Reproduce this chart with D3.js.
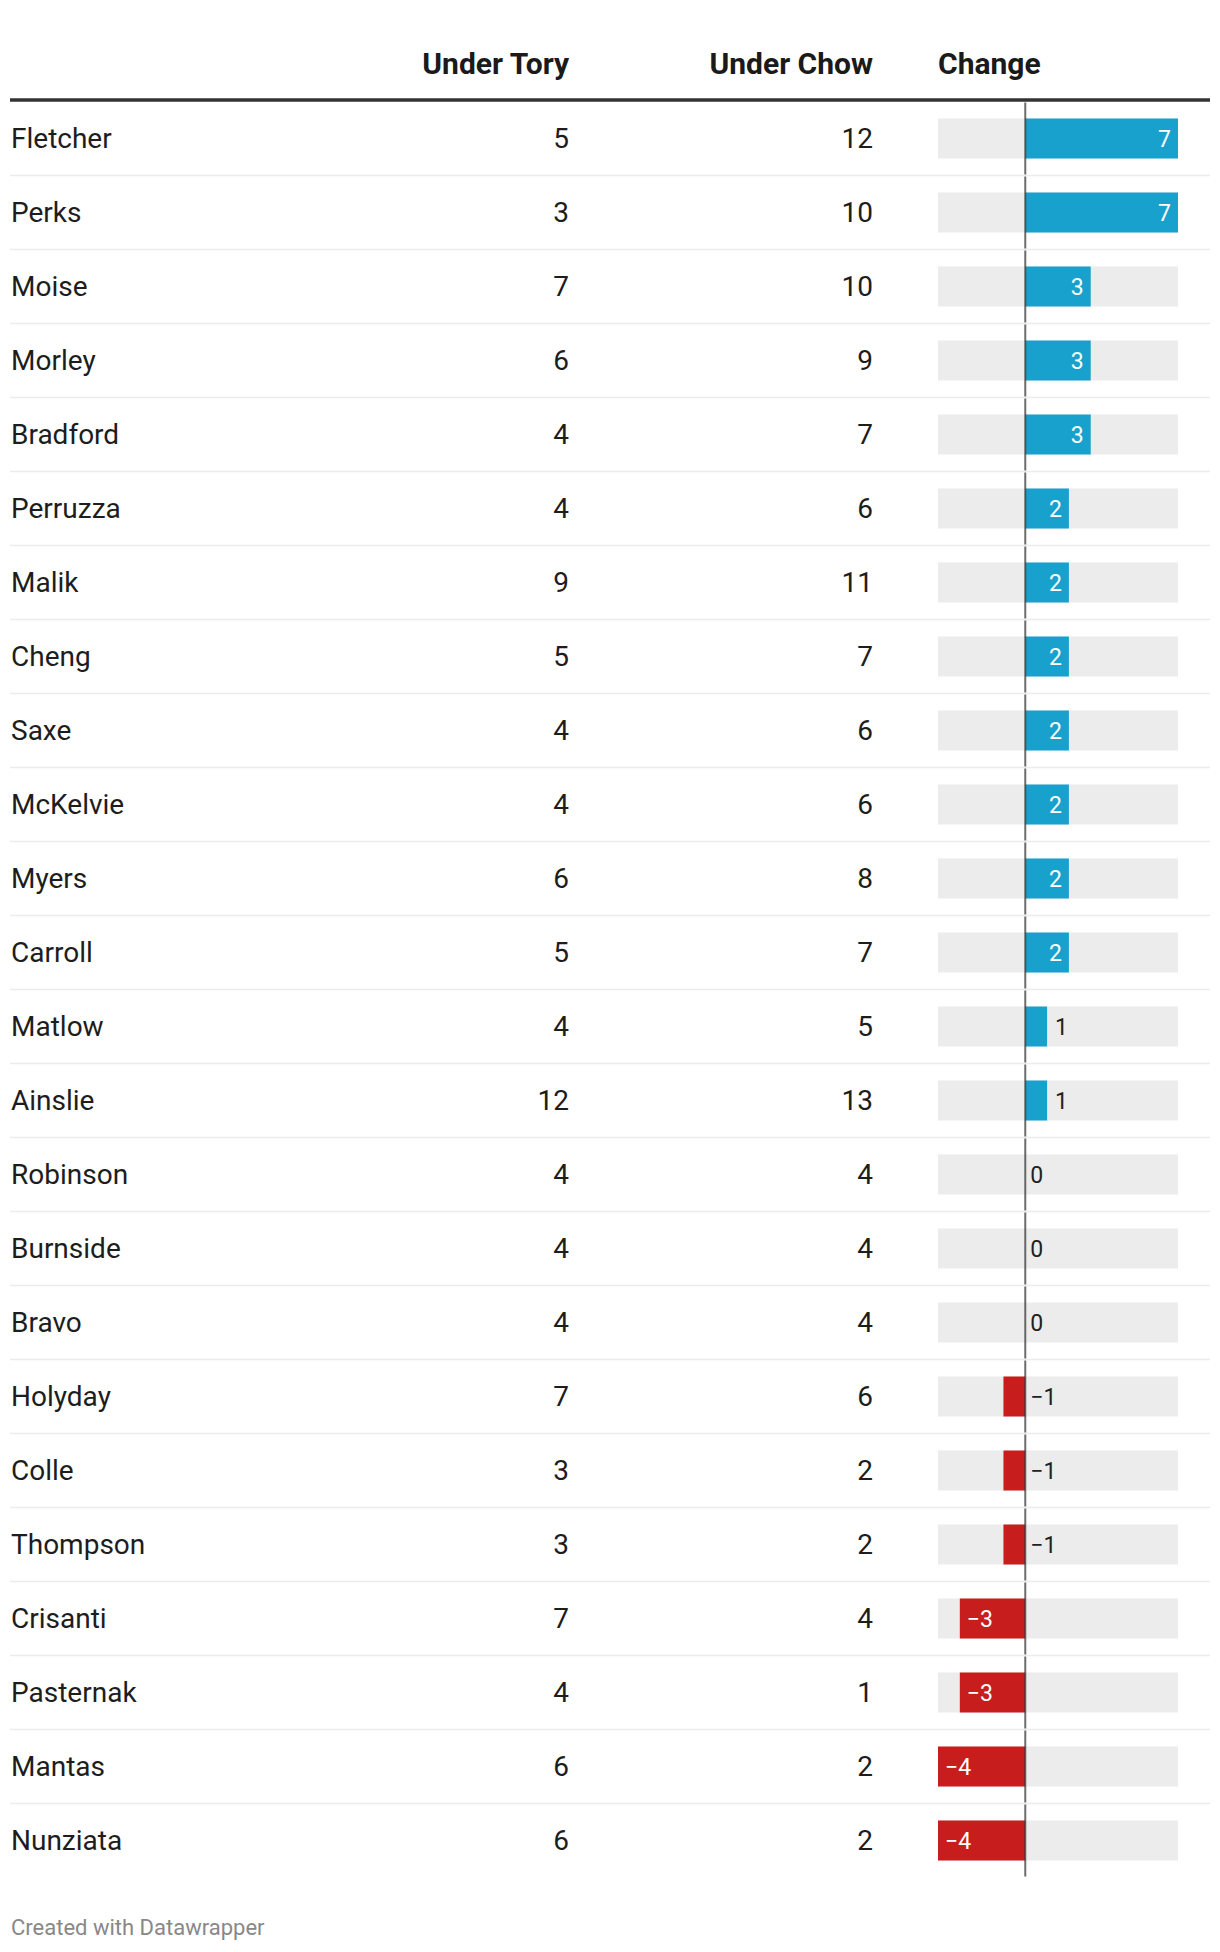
<!DOCTYPE html>
<html>
<head>
  <meta charset="utf-8">
  <title>Under Tory vs Under Chow</title>
  <script src="https://d3js.org/d3.v7.min.js"></script>
  <style>
    body { margin: 0; background: #fff; }
    svg { display: block; font-family: Roboto, "Noto Sans", sans-serif; }
  </style>
</head>
<body>
  <div id="viz"></div>

  <script>

    var names = ["Fletcher", "Perks", "Moise", "Morley", "Bradford", "Perruzza", "Malik", "Cheng",
      "Saxe", "McKelvie", "Myers", "Carroll", "Matlow", "Ainslie", "Robinson", "Burnside", "Bravo",
      "Holyday", "Colle", "Thompson", "Crisanti", "Pasternak", "Mantas", "Nunziata"];
    var underTory = [5, 3, 7, 6, 4, 4, 9, 5, 4, 4, 6, 5, 4, 12, 4, 4, 4, 7, 3, 3, 7, 4, 6, 6];
    var underChow = [12, 10, 10, 9, 7, 6, 11, 7, 6, 6, 8, 7, 5, 13, 4, 4, 4, 6, 2, 2, 4, 1, 2, 2];
    var change = [7, 7, 3, 3, 3, 2, 2, 2, 2, 2, 2, 2, 1, 1, 0, 0, 0, -1, -1, -1, -3, -3, -4, -4];
    var headers = ["Under Tory", "Under Chow", "Change"];

    var rows = names.map(function (d, i) {
      return { name: d, tory: underTory[i], chow: underChow[i], change: change[i] };
    });

    var width = 1220, height = 1952;
    var left = 10, right = 1210;
    var colTory = 569, colChow = 873;
    var headerLineY = 100;
    var rowH = 74, barH = 40;

    var svg = d3.select("#viz")
      .append("svg")
      .attr("width", width)
      .attr("height", height);

    // rows and bar scale
    var y = d3.scaleBand()
      .domain(names)
      .range([101.5, 101.5 + rowH * names.length]);

    var x = d3.scaleLinear()
      .domain([d3.min(change), d3.max(change)])
      .range([938, 1178]);

    var fmt = function (v) { return v < 0 ? "\u2212" + Math.abs(v) : String(v); };

    // header
    var head = svg.append("g")
      .style("font-size", "30px")
      .style("font-weight", "700")
      .style("fill", "#1a1a1a");
    head.append("text").attr("x", colTory).attr("y", 74).attr("text-anchor", "end").text(headers[0]);
    head.append("text").attr("x", colChow).attr("y", 74).attr("text-anchor", "end").text(headers[1]);
    head.append("text").attr("x", x.range()[0]).attr("y", 74).text(headers[2]);

    svg.append("line")
      .attr("x1", left).attr("x2", right)
      .attr("y1", headerLineY).attr("y2", headerLineY)
      .style("stroke", "#333")
      .style("stroke-width", 3.5);

    var row = svg.selectAll(".row")
      .data(rows)
      .enter()
      .append("g")
      .attr("class", "row")
      .attr("transform", function (d) { return "translate(0," + y(d.name) + ")"; });

    // separators between rows
    row.filter(function (d, i) { return i < rows.length - 1; })
      .append("line")
      .attr("x1", left).attr("x2", right)
      .attr("y1", rowH).attr("y2", rowH)
      .style("stroke", "#ececec")
      .style("stroke-width", 1.5);

    var mid = rowH / 2;

    // text columns
    row.append("text")
      .attr("x", 11).attr("y", mid)
      .attr("dy", "0.35em")
      .style("font-size", "28px")
      .style("fill", "#1d1d1d")
      .text(function (d) { return d.name; });

    row.append("text")
      .attr("x", colTory).attr("y", mid)
      .attr("dy", "0.35em")
      .attr("text-anchor", "end")
      .style("font-size", "28px")
      .style("fill", "#1d1d1d")
      .text(function (d) { return d.tory; });

    row.append("text")
      .attr("x", colChow).attr("y", mid)
      .attr("dy", "0.35em")
      .attr("text-anchor", "end")
      .style("font-size", "28px")
      .style("fill", "#1d1d1d")
      .text(function (d) { return d.chow; });

    // bar background
    row.append("rect")
      .attr("x", x.range()[0])
      .attr("y", mid - barH / 2)
      .attr("width", x.range()[1] - x.range()[0])
      .attr("height", barH)
      .style("fill", "#ececec");

    // bars
    row.append("rect")
      .attr("x", function (d) { return x(Math.min(0, d.change)); })
      .attr("y", mid - barH / 2)
      .attr("width", function (d) { return Math.abs(x(d.change) - x(0)); })
      .attr("height", barH)
      .style("fill", function (d) { return d.change < 0 ? "#c71e1d" : "#18a1cd"; });

    // zero line, one piece per row
    row.append("line")
      .attr("x1", x(0)).attr("x2", x(0))
      .attr("y1", 1).attr("y2", rowH - 1)
      .style("stroke", "#333")
      .style("stroke-opacity", 0.72)
      .style("stroke-width", 2);

    // value labels: inside the bar when it is wide enough
    row.append("text")
      .attr("y", mid)
      .attr("dy", "0.35em")
      .style("font-size", "23px")
      .each(function (d) {
        var t = d3.select(this);
        var inside = Math.abs(d.change) >= 2;
        if (inside && d.change > 0) {
          t.attr("x", x(d.change) - 7).attr("text-anchor", "end").style("fill", "#fff");
        } else if (inside && d.change < 0) {
          t.attr("x", x(d.change) + 7).attr("text-anchor", "start").style("fill", "#fff");
        } else if (d.change > 0) {
          t.attr("x", x(d.change) + 8).style("fill", "#222");
        } else {
          t.attr("x", x(0) + 5).style("fill", "#222");
        }
        t.text(fmt(d.change));
      });

    // footer
    svg.append("text")
      .attr("x", 11).attr("y", 1935)
      .style("font-size", "22px")
      .style("fill", "#888")
      .text("Created with Datawrapper");

  </script>
</body>
</html>
